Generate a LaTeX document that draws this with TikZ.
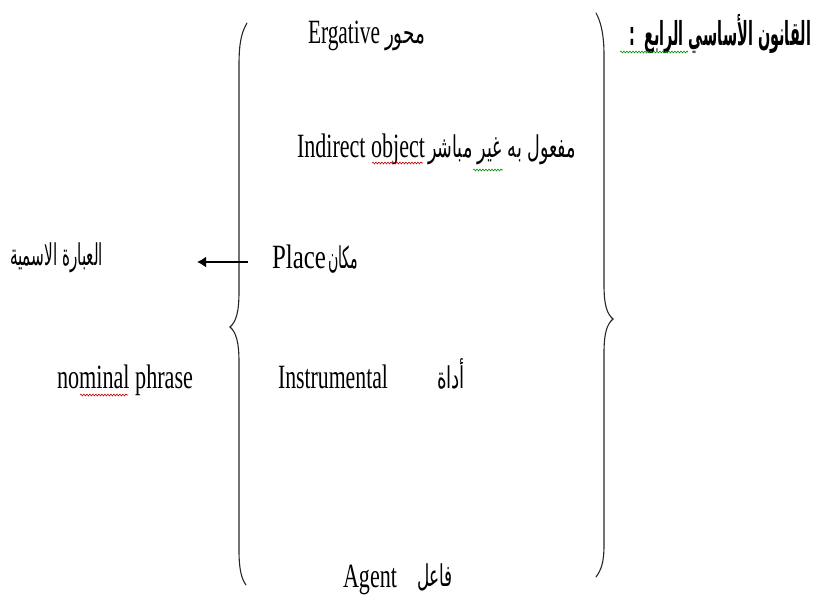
\documentclass[tikz,border=0pt]{standalone}
\usepackage{fontspec}
\usepackage{graphicx}
\setmainfont{Liberation Serif}
\newfontfamily\arabicfont[Script=Arabic]{DejaVu Sans}
\TeXXeTstate=1
\usetikzlibrary{arrows.meta,decorations.pathmorphing}

% set a label at its natural height, squeezed or stretched to a given width
\newcommand\fitto[2]{\resizebox{#1}{\height}{#2}}
\newcommand\lat[2]{\fitto{#1pt}{\fontsize{34}{34}\selectfont #2}}
\newcommand\arb[2]{\fitto{#1pt}{\fontsize{30}{30}\selectfont\arabicfont #2}}

\tikzset{
  lbl/.style={anchor=base west, inner sep=0pt, outer sep=0pt},
  brace/.style={line width=1.1pt, draw=black!85, line cap=round},
  pointer/.style={line width=2.2pt, -{Latex[length=9pt,width=11pt]}},
  squiggle/.style={line width=0.6pt, decorate,
    decoration={snake, segment length=3pt, amplitude=0.9pt}},
  spellred/.style={squiggle, draw=red!75!black},
  spellgreen/.style={squiggle, draw=green!55!black},
}

\begin{document}
\begin{tikzpicture}[x=1pt,y=-1pt]
\useasboundingbox (0,0) rectangle (819,598);

% heading
\node[lbl] (title) at (629,45)
  {\fitto{182pt}{\fontsize{33}{33}\selectfont\arabicfont\bfseries\beginR القانون الأساسي الرابع\hspace{22pt}:\endR}};

% the two braces
\draw[brace] (247,23) .. controls (241,33) and (239,45) .. (239,65)
  -- (239,292) .. controls (239,312) and (236,322) .. (230,327)
  .. controls (236,332) and (239,342) .. (239,362)
  -- (239,550) .. controls (239,568) and (241,578) .. (246,585);
\draw[brace] (596,13) .. controls (601,22) and (604,35) .. (604,55)
  -- (604,285) .. controls (604,305) and (607,314) .. (613,319)
  .. controls (607,324) and (604,333) .. (604,353)
  -- (604,545) .. controls (604,563) and (601,570) .. (596,577);

% entries inside the braces
\node[lbl] (erg)    at (308,43)  {\lat{72}{Ergative}};
\node[lbl] (ergA)   at (385,43)  {\arb{40}{\beginR محور\endR}};
\node[lbl] (ind)    at (297,157) {\lat{128}{Indirect object}};
\node[lbl] (indA)   at (428,157) {\arb{148}{\beginR مفعول به غير مباشر\endR}};
\node[lbl] (place)  at (272,268) {\lat{54}{Place}};
\node[lbl] (placeA) at (328,268) {\arb{30}{\beginR مكان\endR}};
\node[lbl] (instr)  at (278,388) {\lat{110}{Instrumental}};
\node[lbl] (instrA) at (437,388) {\arb{28}{\beginR أداة\endR}};
\node[lbl] (agent)  at (343,587) {\lat{54}{Agent}};
\node[lbl] (agentA) at (417,586) {\arb{36}{\beginR فاعل\endR}};

% the result on the left
\node[lbl] (np)  at (10,265) {\arb{93}{\beginR العبارة الاسمية\endR}};
\node[lbl] (npE) at (57,388) {\lat{136}{nominal phrase}};

% arrow out of the brace
\coordinate (arrstart) at (248,262);
\coordinate (arrtip) at (197,262);
\draw[pointer] (arrstart) -- (arrtip);

% spell-check underlines
\draw[spellgreen] (620,52) -- (688,52);
\draw[spellred]   (372,163) -- (423,163);
\draw[spellgreen] (473,170) -- (503,170);
\draw[spellred]   (80,395) -- (128,395);
\end{tikzpicture}
\end{document}
